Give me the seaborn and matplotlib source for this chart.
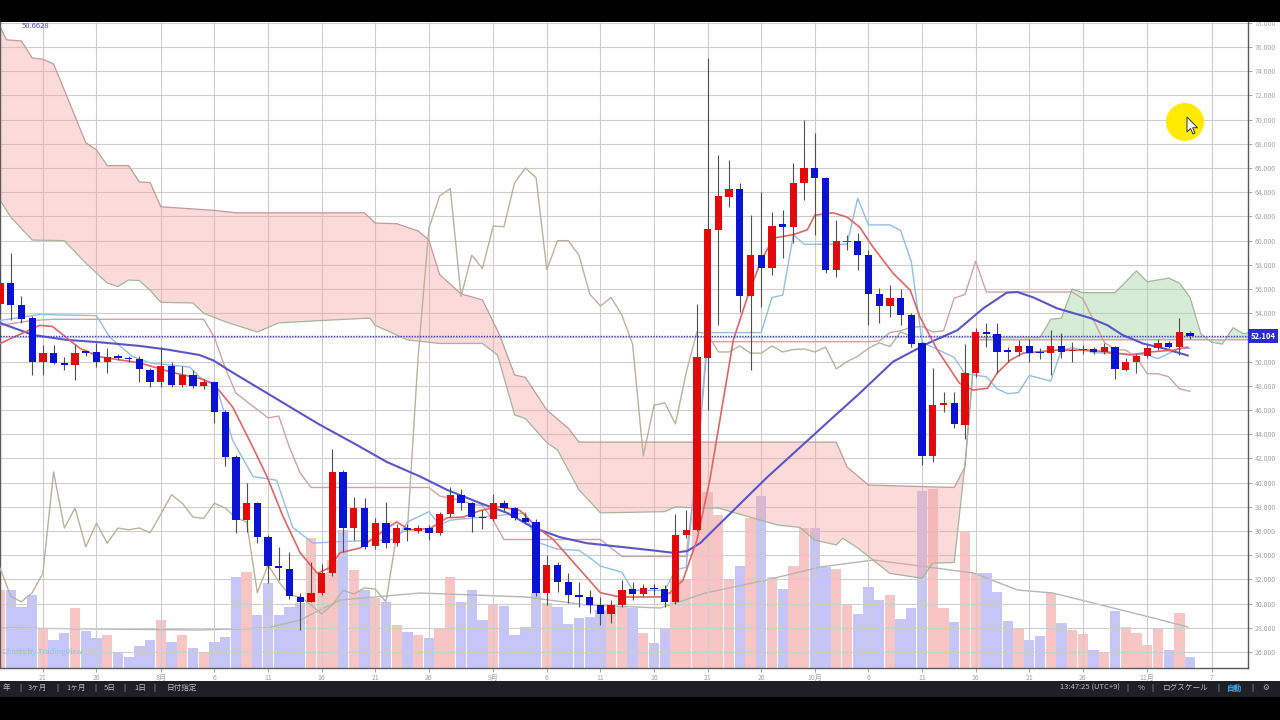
import numpy as np
import pandas as pd
import seaborn as sns
import matplotlib.pyplot as plt
from matplotlib.patches import Rectangle, Circle, Polygon

# ---- daily candles, day 0 = 21 Jul (one candle per calendar day) ----
first_day = -4
opens = [54.8, 56.5, 54.7, 53.6, 50.0, 50.7, 49.9, 49.7, 50.85, 50.8,
         50.0, 50.45, 50.3, 50.2, 49.3, 48.3, 49.6, 48.1, 48.9, 48.0,
         48.3, 45.8, 42.1, 36.9, 38.3, 35.5, 33.1, 32.9, 30.55, 30.15,
         30.9, 32.5, 40.9, 36.25, 37.9, 34.75, 36.65, 35.0, 36.25, 36.0,
         36.25, 35.85, 37.4, 39.0, 38.3, 37.2, 37.0, 38.3, 37.9, 37.1,
         36.75, 30.9, 33.2, 31.8, 30.7, 30.55, 29.9, 29.15, 29.9, 31.2,
         30.8, 31.3, 31.25, 30.15, 35.7, 36.1, 50.3, 60.9, 63.6, 64.3,
         55.4, 58.8, 57.7, 61.35, 61.1, 64.8, 66.0, 65.2, 57.6, 59.9,
         60.0, 58.8, 55.6, 54.6, 55.3, 53.85, 51.5, 42.2, 46.45, 46.6,
         44.8, 49.1, 52.45, 52.3, 50.95, 50.8, 51.3, 50.8, 50.7, 51.3,
         50.9, 50.95, 51.05, 50.8, 51.2, 49.35, 49.95, 50.45, 51.1, 51.55,
         51.2, 52.35]
highs = [57.5, 59.0, 55.4, 53.8, 51.4, 51.4, 50.4, 51.4, 51.0, 51.5,
         51.1, 50.6, 50.5, 50.5, 49.5, 51.2, 50.0, 49.6, 49.3, 48.6,
         48.4, 46.0, 42.3, 40.0, 38.4, 35.7, 34.7, 34.3, 30.9, 33.4,
         33.3, 42.8, 41.05, 38.8, 38.7, 37.1, 38.4, 36.6, 36.6, 36.5,
         36.5, 37.6, 39.6, 39.45, 38.4, 37.7, 39.1, 38.6, 38.0, 37.5,
         37.0, 34.0, 33.4, 32.5, 31.8, 31.1, 30.55, 30.3, 31.95, 31.8,
         31.6, 31.6, 31.5, 37.4, 37.7, 54.8, 75.1, 67.1, 66.7, 64.8,
         62.1, 64.0, 62.4, 62.5, 66.4, 70.0, 68.9, 65.3, 61.7, 60.5,
         60.6, 59.2, 56.1, 56.3, 56.0, 54.0, 51.6, 49.5, 47.5, 47.5,
         51.45, 52.8, 53.2, 53.2, 51.2, 51.8, 51.9, 51.1, 52.6, 52.4,
         51.6, 51.4, 51.2, 51.5, 51.3, 50.3, 50.6, 51.4, 51.9, 51.7,
         53.6, 52.5]
lows = [54.0, 53.4, 53.2, 48.9, 48.9, 49.8, 49.3, 48.5, 50.5, 49.55,
        49.1, 50.1, 50.0, 48.3, 47.9, 47.9, 47.9, 47.9, 47.8, 47.7,
        44.9, 41.4, 35.8, 35.9, 35.0, 31.7, 31.95, 30.4, 27.8, 30.1,
        30.7, 32.3, 34.3, 35.3, 34.5, 34.5, 34.6, 34.8, 35.2, 35.8,
        35.3, 35.7, 37.2, 37.7, 35.9, 36.2, 36.8, 37.6, 36.9, 36.6,
        30.6, 29.9, 31.0, 30.05, 29.7, 29.2, 28.2, 28.4, 29.7, 30.3,
        30.6, 30.7, 29.7, 30.0, 35.4, 36.0, 46.0, 53.0, 62.8, 54.1,
        49.3, 54.5, 57.2, 58.6, 59.8, 63.4, 60.5, 57.3, 57.0, 59.2,
        57.6, 53.0, 53.2, 53.7, 53.0, 51.2, 41.45, 41.7, 45.8, 44.5,
        43.6, 48.7, 51.2, 49.1, 49.95, 50.5, 50.0, 50.2, 48.9, 50.3,
        50.0, 50.6, 50.6, 50.6, 48.6, 49.2, 49.1, 50.3, 51.0, 51.1,
        50.55, 51.9]
closes = [56.5, 54.7, 53.5, 50.0, 50.7, 49.9, 49.7, 50.7, 50.7, 50.0,
          50.4, 50.3, 50.2, 49.4, 48.3, 49.6, 48.1, 48.9, 48.0, 48.3,
          45.8, 42.1, 36.9, 38.3, 35.5, 33.1, 32.95, 30.6, 30.15, 30.9,
          32.5, 40.9, 36.25, 37.9, 34.7, 36.65, 35.0, 36.25, 36.1, 36.25,
          35.85, 37.4, 39.0, 38.3, 37.15, 37.05, 38.3, 37.9, 37.1, 36.75,
          30.9, 33.2, 31.8, 30.7, 30.55, 29.9, 29.15, 29.9, 31.1, 30.8,
          31.3, 31.2, 30.15, 35.7, 36.1, 50.4, 61.0, 63.7, 64.3, 55.4,
          58.8, 57.7, 61.2, 61.15, 64.8, 66.0, 65.2, 57.6, 60.0, 60.0,
          58.8, 55.6, 54.6, 55.3, 53.85, 51.45, 42.2, 46.4, 46.6, 44.85,
          49.1, 52.45, 52.3, 50.8, 50.8, 51.3, 50.7, 50.7, 51.3, 50.8,
          51.0, 51.05, 50.8, 51.2, 49.4, 50.0, 50.45, 51.1, 51.55, 51.25,
          52.45, 52.104]
volumes = [78, 78, 61, 73, 39, 28, 35, 60, 37, 30,
           33, 15, 11, 22, 28, 48, 26, 33, 20, 15,
           26, 31, 91, 96, 53, 85, 53, 61, 65, 130,
           95, 108, 138, 98, 78, 70, 66, 43, 36, 33,
           30, 39, 91, 66, 78, 48, 64, 62, 33, 41,
           75, 65, 61, 44, 50, 51, 58, 60, 61, 60,
           35, 25, 40, 88, 88, 150, 176, 153, 88, 102,
           150, 172, 91, 79, 102, 140, 140, 101, 99, 63,
           54, 81, 68, 73, 49, 60, 177, 179, 60, 46,
           136, 95, 95, 76, 47, 40, 28, 32, 75, 45,
           38, 34, 18, 15, 57, 41, 35, 23, 40, 18,
           55, 11]

# ---- indicator lines (day, value) ----
ma25_days = [-4, -0.9, 2.2, 5.3, 9, 11.6, 14.6, 15.9, 17.7, 20.9, 24, 25.8, 28.9, 32.1,
             35.2, 37.7, 40.8, 43.3, 45.7, 48.2, 50.7, 53.8, 56.9, 58.8, 60.1, 61.3,
             64.4, 67.5, 70.6, 73.7, 76.2, 79.3, 82.5, 85.3, 87.7, 89.9, 90.9, 92.4,
             94.6, 97.7, 99.3, 100.7, 102.6, 104.5, 106.8]
ma25_vals = [53.2, 52.2, 51.8, 51.6, 51.3, 51.0, 50.55, 50.1, 49.1, 47.4, 45.75, 44.8, 43.3, 41.7,
             40.5, 39.4, 38.3, 37.5, 36.3, 35.5, 35.0, 34.7, 34.4, 34.2, 34.35, 35.0,
             37.7, 40.4, 42.9, 45.4, 47.4, 50.0, 51.5, 52.6, 54.4, 55.7, 55.75, 55.3,
             54.4, 53.6, 53.0, 52.2, 51.5, 51.1, 50.5]

ma5_days = [-4, -0.3, 0.9, 3.45, 5.3, 9, 12.1, 14.65, 15.9, 17.7, 19.6, 20.9, 22.4, 24,
            25.6, 26.8, 27.7, 29.6, 32.1, 33, 34.2, 36.1, 37.7, 39.2, 40.8, 42.6, 44.5,
            46.1, 47.6, 50.1, 52, 53.8, 55.7, 57.6, 58.5, 59.7, 61, 62.2, 64.4, 65.7,
            66.9, 68.1, 70, 71.3, 72, 73.7, 75, 76.2, 77.4, 79.3, 80.9, 81.8, 83.4,
            85.5, 86.75, 88.1, 89, 90.2, 91.4, 94.6, 97.7, 100.2, 101.4, 103.3, 105.4, 106.8]
ma5_vals = [51.5, 53.0, 52.9, 51.1, 50.4, 49.9, 49.1, 48.6, 48.2, 46.25, 42.9, 40.5, 37.2, 34.2,
            32.5, 33.0, 34.2, 34.6, 36.25, 36.75, 36.1, 36.2, 37.1, 37.15, 37.7, 38.0, 37.7,
            36.3, 35.3, 32.8, 30.9, 30.55, 30.55, 30.55, 30.9, 31.95, 35.25, 40.2, 51.8, 55.3,
            58.15, 60.2, 60.5, 60.9, 62.1, 62.3, 61.95, 61.1, 59.5, 57.3, 55.9, 53.7, 51.0,
            48.2, 47.65, 47.8, 49.05, 50.1, 50.7, 50.95, 50.95, 50.7, 50.55, 50.8, 50.95, 51.2]

tenkan_days = [-4, -0.3, 5, 6.25, 8.4, 10, 13.7, 14.65, 16.2, 17.7, 19.6, 21.8, 23.3, 25.2,
               27, 33, 34, 36, 37, 38, 45, 46, 48, 50, 51, 52, 54, 55, 58, 59, 60, 61, 62,
               67, 68, 69, 70, 71, 75, 76, 77, 79, 80, 81, 82, 85, 86, 88, 89, 90, 91, 92,
               94, 95, 96, 98, 103, 104, 106, 107]
tenkan_vals = [53.4, 53.9, 53.8, 52.0, 50.4, 49.9, 49.55, 48.7, 47.9, 43.5, 40.5, 40.2, 36.3, 35.0,
               35.1, 35.3, 36.75, 37.6, 36.5, 36.9, 37.5, 35.1, 34.5, 34.4, 33.8, 33.1, 32.6,
               31.1, 31.1, 32.8, 33.0, 41.5, 52.4, 52.4, 55.3, 55.5, 60.5, 59.7, 59.7, 63.5,
               61.3, 61.3, 60.85, 58.25, 51.6, 50.35, 49.0, 48.75, 47.75, 47.35, 47.45, 48.85,
               48.4, 50.95, 51.15, 50.75, 50.55, 50.25, 51.1, 51.1]

kijun_days = [-4, -1, 1, 15, 16, 17, 18, 21, 22, 23, 24, 25, 36, 37, 38, 39, 40, 41, 42, 43,
              52, 53, 54, 60, 61, 62, 77, 78, 79, 80, 81, 82, 83, 84, 85, 86, 87, 88, 96, 97,
              98, 99, 100, 101, 102, 103, 104, 105, 106, 107]
kijun_vals = [53.0, 53.4, 53.5, 53.5, 52.0, 49.5, 47.4, 45.35, 45.5, 42.9, 40.8, 39.6, 39.6,
              38.9, 38.7, 38.55, 38.2, 38.1, 36.9, 35.3, 35.3, 34.6, 33.9, 33.9, 41.5, 51.65,
              51.65, 51.7, 52.4, 52.55, 52.85, 52.9, 52.45, 52.55, 55.25, 55.55, 58.3, 55.75,
              55.75, 55.2, 53.4, 51.6, 51.0, 50.95, 50.35, 49.0, 49.0, 48.75, 47.75, 47.55]

spanb_days = [-4, -3.4, -2, -1, 0, 1, 4, 5, 6, 8, 9, 10, 11, 16, 18, 30, 31, 33, 35, 36,
              37, 39, 41, 42.6, 44, 45, 47, 49, 50, 74, 75, 77, 85, 86, 87, 113]
spanb_vals = [77.7, 76.6, 76.5, 75.1, 75.0, 74.6, 68.1, 67.5, 66.2, 66.2, 64.85, 64.8, 62.8,
              62.5, 62.3, 62.3, 61.45, 61.4, 60.8, 60.05, 57.2, 55.6, 55.1, 52.2, 48.9, 48.7,
              46.0, 44.5, 43.35, 43.35, 41.3, 39.8, 39.6, 41.3, 51.8, 51.8]

spana_days = [-4, -3, -1, 2, 4, 6, 7, 8, 9, 10, 11, 14, 15, 17, 20, 22, 26, 30.5, 31, 34,
              37, 41, 42.4, 44, 45, 47, 48, 50, 52, 58, 59, 61, 63, 68.5, 70.6, 72, 74, 74.6,
              76, 79, 82, 83, 85, 86, 87, 93, 94, 95, 96, 97, 100, 102, 103, 105, 106, 107,
              108, 109, 110, 111, 112, 113]
spana_vals = [63.35, 61.95, 60.05, 60.0, 58.15, 56.5, 56.2, 56.75, 56.7, 55.9, 54.9, 54.85,
              54.0, 53.3, 52.45, 53.2, 53.4, 53.6, 53.0, 51.8, 51.5, 51.5, 50.55, 45.6, 45.3,
              43.3, 42.7, 39.4, 37.5, 37.6, 38.0, 37.9, 37.9, 36.5, 36.3, 35.25, 34.85, 35.4,
              34.6, 32.5, 32.1, 33.35, 33.4, 41.5, 52.0, 52.0, 53.5, 53.6, 56.0, 55.7, 55.7,
              57.5, 56.6, 56.9, 56.5, 55.3, 52.3, 51.6, 51.45, 52.8, 52.3, 52.5]
cloud_switch_day = 86

vma_days = [-4, 14.6, 20.9, 24, 27.7, 35.2, 45.1, 50.7, 57.6, 61.8, 67.5, 72.5, 77.5, 86.8,
            90.9, 94.2, 103.2, 106.8]
vma_vals = [40, 38, 40, 48, 68, 75, 71, 63, 60, 75, 88, 101, 108, 95, 78, 75, 51, 41]

lag_shift = 26

tick_days = [0, 5, 11, 16, 21, 26, 31, 36, 42, 47, 52, 57, 62, 67, 72, 77, 82, 87, 92, 97, 103, 109]
tick_labels = ["21", "26", "8月", "6", "11", "16", "21", "26", "9月", "6", "11", "16", "21",
               "26", "10月", "6", "11", "16", "21", "26", "11月", "7"]
price_ticks = np.arange(26, 80, 2)

UP = "#e20a0a"
DOWN = "#0a12d4"

sns.set_theme(style="white")
plt.rcParams["font.family"] = ["Noto Sans CJK JP", "DejaVu Sans"]

df = pd.DataFrame({"open": opens, "high": highs, "low": lows, "close": closes, "vol": volumes})
df["day"] = np.arange(first_day, first_day + len(df))
df["up"] = df["close"] >= df["open"]

fig = plt.figure(figsize=(12.8, 7.2), dpi=100)
ax = fig.add_axes([0, 52 / 720, 1248 / 1280, 646 / 720])
ax_v = ax.twinx()
ax.set_zorder(ax_v.get_zorder() + 1)
ax.patch.set_visible(False)

# volume (overlay at the bottom)
ax_v.bar(df["day"], df["vol"], width=0.96,
         color=np.where(df["up"], "#f08080", "#8080f0"), alpha=0.45, linewidth=0)
sns.lineplot(x=vma_days, y=vma_vals, ax=ax_v, color="#b5b5b5", linewidth=1.0, sort=False)
ax_v.set_ylim(0, 646)
ax_v.axis("off")

# ichimoku cloud
b_d = np.array(spanb_days); b_v = np.array(spanb_vals)
a_d = np.array(spana_days); a_v = np.array(spana_vals)
m_b = b_d <= cloud_switch_day; m_a = a_d <= cloud_switch_day
ax.fill(np.r_[b_d[m_b], a_d[m_a][::-1]], np.r_[b_v[m_b], a_v[m_a][::-1]],
        color="#f5a3a3", alpha=0.4, linewidth=0, zorder=1)
m_b = b_d >= cloud_switch_day; m_a = a_d >= cloud_switch_day
ax.fill(np.r_[a_d[m_a], b_d[m_b][::-1]], np.r_[a_v[m_a], b_v[m_b][::-1]],
        color="#a5d6a7", alpha=0.45, linewidth=0, zorder=1)
sns.lineplot(x=spanb_days, y=spanb_vals, ax=ax, color="#c29a9a", linewidth=0.9, sort=False, zorder=2)
sns.lineplot(x=spana_days, y=spana_vals, ax=ax, color="#a3b59c", linewidth=0.9, sort=False, zorder=2)

# lagging span, base / conversion lines, moving averages
sns.lineplot(x=df["day"] - lag_shift, y=df["close"], ax=ax, color="#b7b39c", linewidth=1.0, sort=False, zorder=3)
sns.lineplot(x=kijun_days, y=kijun_vals, ax=ax, color="#cfa3a3", linewidth=1.0, sort=False, zorder=3)
sns.lineplot(x=tenkan_days, y=tenkan_vals, ax=ax, color="#93bde3", linewidth=1.0, sort=False, zorder=3)
sns.lineplot(x=ma25_days, y=ma25_vals, ax=ax, color="#5a55c8", linewidth=1.5, sort=False, zorder=3)
sns.lineplot(x=ma5_days, y=ma5_vals, ax=ax, color="#e06565", linewidth=1.2, sort=False, zorder=3)

# last price line
last = closes[-1]
ax.axhline(last, color="#3838d8", linestyle=(0, (1, 1)), linewidth=1.0, zorder=4)

# candles
body_lo = df[["open", "close"]].min(axis=1)
body_h = (df["close"] - df["open"]).abs().clip(lower=0.1)
ax.vlines(df["day"], df["low"], df["high"], color="#505050", linewidth=0.8, zorder=5)
ax.bar(df["day"], body_h, bottom=body_lo, width=0.68,
       color=np.where(df["up"], UP, DOWN), linewidth=0, zorder=6)

# axes styling
ax.set_xlim(-4.0, 112.4)
ax.set_ylim(24.68, 78.07)
ax.set_xticks(tick_days)
ax.set_xticklabels(tick_labels)
ax.set_yticks(price_ticks)
# the last-price badge sits over the 52 label, so that one is left blank
ax.set_yticklabels(["" if abs(v - last) < 1 else f"{v:.3f}" for v in price_ticks])
ax.yaxis.tick_right()
ax.set_xlabel(""); ax.set_ylabel("")
ax.grid(True, color="#cdcdcd", linewidth=0.8)
ax.set_axisbelow(True)
ax.tick_params(axis="y", right=True, left=False, labelright=True, labelleft=False,
               length=3, width=0.6, color="#9a9a9a", labelsize=5, labelcolor="#a5a5a5", pad=2)
ax.tick_params(axis="x", bottom=True, length=3, width=0.6, color="#9a9a9a",
               labelsize=5, labelcolor="#a0a0a0", pad=1.5)
for side in ["left", "right", "bottom"]:
    ax.spines[side].set_visible(True)
    ax.spines[side].set_color("#5a5a5a")
    ax.spines[side].set_linewidth(1.0)
ax.spines["top"].set_visible(False)

ax.text(1.002, last, f"{last:.3f}", transform=ax.get_yaxis_transform(), ha="left", va="center",
        fontsize=5.5, color="white", fontweight="bold", clip_on=False, zorder=10,
        bbox=dict(facecolor="#2b2bd2", edgecolor="none", pad=1.8))

# chart overlays
fig.text(22 / 1280, 1 - 26 / 720, "50.6628", fontsize=5.5, color="#4a4ac8", va="center")
fig.text(2 / 1280, 1 - 652 / 720, "Charts by TradingView", fontsize=5.5, color="#8cc2e8", va="center")
fig.patches.append(Circle((11.85, 7.2 - 1.22), 0.19, transform=fig.dpi_scale_trans,
                          facecolor="#ffea00", edgecolor="none", zorder=20))
arrow = np.array([[0, 0], [0, -0.15], [0.035, -0.115], [0.06, -0.17], [0.08, -0.16],
                  [0.056, -0.107], [0.105, -0.107]]) + [11.87, 7.2 - 1.17]
fig.patches.append(Polygon(arrow, closed=True, transform=fig.dpi_scale_trans,
                           facecolor="white", edgecolor="#333333", linewidth=0.7, zorder=21))

# screen frame: top bar and bottom toolbar
fig.patches.append(Rectangle((0, 1 - 22 / 720), 1, 22 / 720, transform=fig.transFigure,
                             facecolor="black", edgecolor="none", zorder=15))
fig.patches.append(Rectangle((0, 0), 1, 23 / 720, transform=fig.transFigure,
                             facecolor="black", edgecolor="none", zorder=15))
fig.patches.append(Rectangle((0, 23 / 720), 1, 16 / 720, transform=fig.transFigure,
                             facecolor="#1e2027", edgecolor="none", zorder=15))

bar_y = 1 - 688 / 720
left_items = [(6, "年"), (20, "|"), (38, "3ヶ月"), (57, "|"), (76, "1ヶ月"), (95, "|"),
              (110, "5日"), (124, "|"), (140, "1日"), (154, "|"), (182, "日付指定")]
right_items = [(1090, "13:47:25 (UTC+9)"), (1127, "|"), (1141, "%"), (1152, "|"),
               (1186, "ログスケール"), (1218, "|"), (1252, "|"), (1266, "⚙")]
for x, s in left_items + right_items:
    fig.text(x / 1280, bar_y, s, fontsize=5.5, color="#b8bbc2", ha="center", va="center", zorder=16)
fig.text(1235 / 1280, bar_y, "自動", fontsize=5.5, color="#3fa9f5", ha="center", va="center",
         fontweight="bold", zorder=16)

fig.savefig("out.png", dpi=100, facecolor="white")
